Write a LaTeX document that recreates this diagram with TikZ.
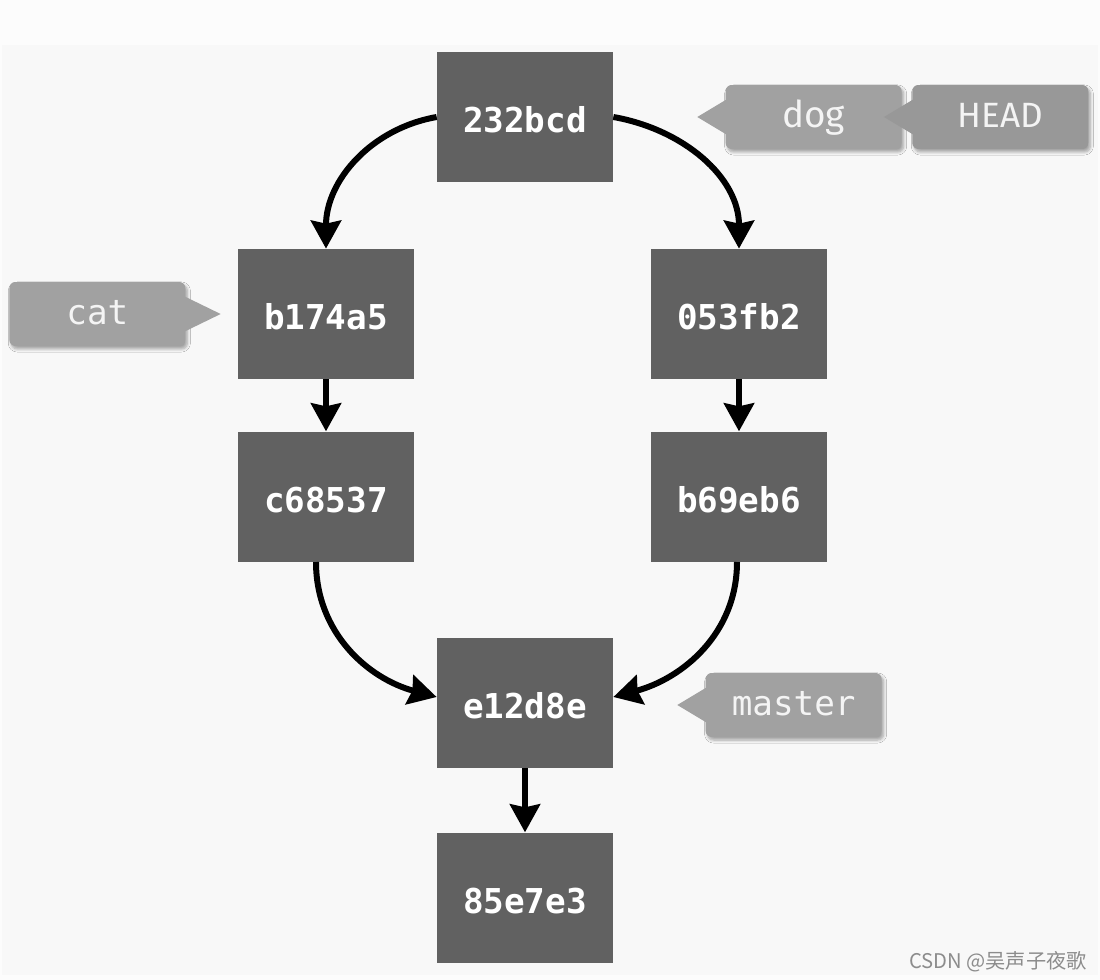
\documentclass[tikz,border=0pt]{standalone}
\usepackage{fontspec}
\usepackage{xcolor}
\usepackage{tikz}
\usetikzlibrary{arrows.meta,positioning,shadows.blur}
\newfontfamily\commitfont{DejaVu Sans Mono}
\newfontfamily\tagfont{Fira Sans}
\newfontfamily\cjkfont{Noto Sans CJK SC}
\definecolor{commitgray}{HTML}{616161}
\definecolor{taggray}{HTML}{A1A1A1}
\definecolor{headgray}{HTML}{989898}
\definecolor{labelwhite}{HTML}{F4F4F4}
\definecolor{pagetop}{HTML}{FCFCFC}
\definecolor{pagegray}{HTML}{F8F8F8}
\definecolor{markgray}{HTML}{8C8C8C}

\begin{document}
\begin{tikzpicture}[
  x=0.02cm,y=-0.02cm,
  commit/.style={fill=commitgray,minimum width=3.52cm,minimum height=2.6cm,inner sep=0pt,
                 text=white,text height=0.64cm,text depth=0pt,
                 font=\commitfont\bfseries\fontsize{19.5}{20}\selectfont},
  tag/.style={fill=taggray,rounded corners=0.12cm,minimum width=3.52cm,minimum height=1.28cm,
              inner sep=0pt,text=labelwhite,text depth=0pt,
              blur shadow={shadow xshift=0.04cm,shadow yshift=-0.06cm,
                           shadow blur steps=6,shadow opacity=35}},
  monotag/.style={tag,text height=0.44cm,font=\commitfont\fontsize{19.5}{20}\selectfont},
  sanstag/.style={tag,text height=0.42cm,font=\tagfont\fontsize{20}{22}\selectfont},
  arrow/.style={-{Stealth[length=0.56cm,width=0.6cm,inset=0.06cm]},line width=0.12cm}
]
  % page
  \fill[pagetop] (0,0) rectangle (1100,980);
  \fill[pagegray] (2,45) rectangle (1098,975);

  % commits
  \node[commit] (top) at (525,117) {232bcd};
  \node[commit] (b174a5) at (326,314) {b174a5};
  \node[commit] (053fb2) at (739,314) {053fb2};
  \node[commit,below=1.04cm of b174a5] (c68537) {c68537};
  \node[commit,below=1.04cm of 053fb2] (b69eb6) {b69eb6};
  \node[commit] (e12d8e) at (525,703) {e12d8e};
  \node[commit,below=1.28cm of e12d8e] (85e7e3) {85e7e3};

  % tags
  \node[sanstag,font=\tagfont\fontsize{21}{22}\selectfont,right=2.24cm of top.east,anchor=west] (dog) {dog};
  \node[sanstag,fill=headgray,right=0.2cm of dog] (head) {HEAD};
  \node[monotag,left=1.04cm of b174a5] (cat) {cat};
  \node[monotag,right=1.84cm of e12d8e.east,anchor=west,yshift=-0.04cm] (master) {master};

  \foreach \t/\c in {dog/taggray,head/headgray,master/taggray}
    \fill[\c] ([xshift=0.04cm,yshift=0.36cm]\t.west) -- ([xshift=-0.56cm]\t.west)
      -- ([xshift=0.04cm,yshift=-0.36cm]\t.west) -- cycle;
  \fill[taggray] ([xshift=-0.04cm,yshift=0.36cm]cat.east) -- ([xshift=0.7cm]cat.east)
      -- ([xshift=-0.04cm,yshift=-0.36cm]cat.east) -- cycle;

  \draw[arrow] (top.west) to[out=190,in=90] (b174a5.north);
  \draw[arrow] (top.east) to[out=-10,in=90] (053fb2.north);
  \draw[arrow] (b174a5) -- (c68537);
  \draw[arrow] (053fb2) -- (b69eb6);
  \draw[arrow] ([xshift=-0.2cm]c68537.south) to[out=-90,in=165] ([yshift=0.12cm]e12d8e.west);
  \draw[arrow] ([xshift=-0.04cm]b69eb6.south) to[out=-90,in=15] ([yshift=0.12cm]e12d8e.east);
  \draw[arrow] (e12d8e) -- (85e7e3);

  \node[font=\cjkfont\fontsize{11.5}{12}\selectfont,text=markgray] (mark) at (998,962) {CSDN @吴声子夜歌};
\end{tikzpicture}
\end{document}
